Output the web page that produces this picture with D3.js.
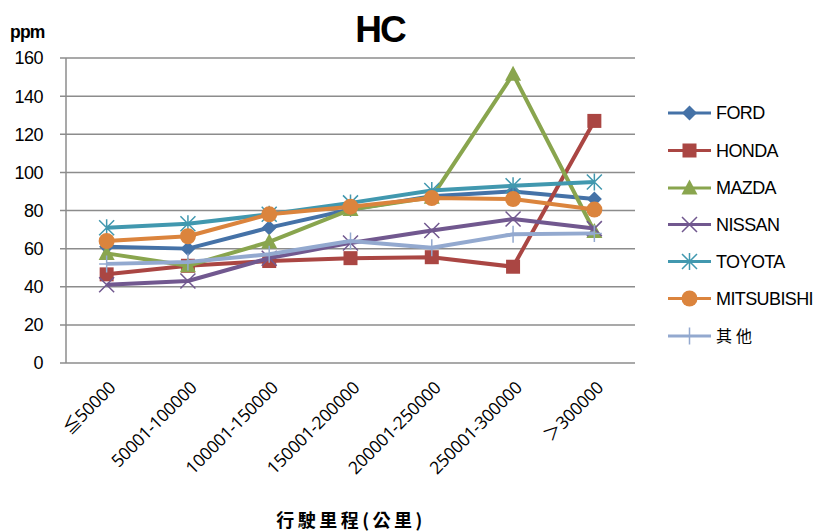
<!DOCTYPE html>
<html>
<head>
<meta charset="utf-8">
<script src="https://cdn.jsdelivr.net/npm/d3@7"></script>
<style>
  html, body { margin: 0; padding: 0; background: #fff; }
  svg { display: block; }
</style>
</head>
<body>
<svg id="chart" width="818" height="531"></svg>
<script>
// Mileage bands (km)
const categories = ["≦50000", "50001-100000", "100001-150000", "150001-200000",
                    "200001-250000", "250001-300000", "＞300000"];

// HC concentration (ppm) per brand
const ford       = [61, 60, 71, 80.5, 87.5, 90, 86];
const honda      = [46.5, 51, 53.5, 55, 55.5, 50.5, 127];
const mazda      = [57.5, 51, 63.5, 80.5, 87, 151.5, 69];
const nissan     = [41, 43, 55, 63, 69.5, 75.5, 70.5];
const toyota     = [71, 73, 78, 84, 90.5, 93, 95];
const mitsubishi = [64, 66.5, 78, 82, 86.5, 86, 80.5];
const others     = [52, 53, 57, 64, 60.5, 67.5, 68];

const yTicks = [0, 20, 40, 60, 80, 100, 120, 140, 160];

const seriesNames  = ["FORD", "HONDA", "MAZDA", "NISSAN", "TOYOTA", "MITSUBISHI", "其他"];
const seriesValues = [ford, honda, mazda, nissan, toyota, mitsubishi, others];
const seriesColors = ["#4572A7", "#AA4643", "#89A54E", "#71588F", "#4198AF", "#DB843D", "#93A9CF"];
const seriesMarker = ["diamond", "square", "triangle", "x", "star", "circle", "plus"];

const svg = d3.select("#chart");
const plot = { left: 66, right: 635, top: 58, bottom: 363 };

const x = d3.scaleBand().domain(categories).range([plot.left, plot.right]);
const y = d3.scaleLinear().domain([0, 160]).range([plot.bottom, plot.top]);
const cx = d => x(d) + x.bandwidth() / 2;

const fontLatin = "'Liberation Sans', Arial, sans-serif";

// Horizontal gridlines
svg.append("g")
  .selectAll("line")
  .data(yTicks)
  .join("line")
  .attr("x1", plot.left - 6)
  .attr("x2", plot.right)
  .attr("y1", d => y(d))
  .attr("y2", d => y(d))
  .attr("stroke", "#8c8c8c")
  .attr("stroke-width", 1.5);

// Y axis line
svg.append("line")
  .attr("x1", plot.left).attr("x2", plot.left)
  .attr("y1", plot.top).attr("y2", plot.bottom)
  .attr("stroke", "#8c8c8c").attr("stroke-width", 1.5);

// Y tick labels
svg.append("g")
  .selectAll("text")
  .data(yTicks)
  .join("text")
  .attr("x", 43)
  .attr("y", d => y(d))
  .attr("dy", "0.36em")
  .attr("text-anchor", "end")
  .attr("font-family", fontLatin)
  .attr("font-size", 18)
  .attr("letter-spacing", -0.5)
  .attr("fill", "#000")
  .text(d => d);

// X tick labels, rotated
svg.append("g")
  .selectAll("text")
  .data(categories)
  .join("text")
  .attr("transform", d => `translate(${cx(d) + 10},${plot.bottom + 26}) rotate(-45)`)
  .attr("text-anchor", "end")
  .attr("font-family", "'Open Sans', 'Noto Sans CJK TC', sans-serif")
  .attr("font-size", 17.5)
  .attr("letter-spacing", -0.3)
  .attr("fill", "#000")
  .text(d => d);

// Marker shapes
function drawMarker(g, type, color) {
  const s = 7.5;
  switch (type) {
    case "diamond":
      g.append("path").attr("d", `M0,${-s}L${s},0L0,${s}L${-s},0Z`).attr("fill", color);
      break;
    case "square":
      g.append("rect").attr("x", -s + 0.5).attr("y", -s + 0.5)
        .attr("width", 2 * s - 1).attr("height", 2 * s - 1).attr("fill", color);
      break;
    case "triangle":
      g.append("path").attr("d", `M0,${-s - 1}L${s + 0.5},${s - 1}L${-s - 0.5},${s - 1}Z`).attr("fill", color);
      break;
    case "circle":
      g.append("circle").attr("r", s + 0.5).attr("fill", color);
      break;
    case "x":
      g.append("path").attr("d", `M${-s},${-s}L${s},${s}M${-s},${s}L${s},${-s}`)
        .attr("stroke", color).attr("stroke-width", 1.5).attr("fill", "none");
      break;
    case "star":
      g.append("path").attr("d", `M${-s},${-s}L${s},${s}M${-s},${s}L${s},${-s}M0,${-s - 1}L0,${s + 1}`)
        .attr("stroke", color).attr("stroke-width", 1.5).attr("fill", "none");
      break;
    case "plus":
      g.append("path").attr("d", `M0,${-s - 1}L0,${s + 1}M${-s},0L${s},0`)
        .attr("stroke", color).attr("stroke-width", 1.5).attr("fill", "none");
      break;
  }
}

// Series lines and markers
const line = d3.line()
  .x((d, i) => cx(categories[i]))
  .y(d => y(d));

seriesValues.forEach((vals, si) => {
  const color = seriesColors[si];
  const g = svg.append("g");
  g.append("path")
    .datum(vals)
    .attr("d", line)
    .attr("fill", "none")
    .attr("stroke", color)
    .attr("stroke-width", 4)
    .attr("stroke-linejoin", "round");
  vals.forEach((v, i) => {
    const m = g.append("g").attr("transform", `translate(${cx(categories[i])},${y(v)})`);
    drawMarker(m, seriesMarker[si], color);
  });
});

// Legend
const legendRows = [113, 150.5, 188, 224.5, 261.5, 298.5, 336];
seriesNames.forEach((name, si) => {
  const color = seriesColors[si];
  const g = svg.append("g").attr("transform", `translate(0,${legendRows[si]})`);
  g.append("line")
    .attr("x1", 668).attr("x2", 711)
    .attr("stroke", color).attr("stroke-width", 3);
  const m = g.append("g").attr("transform", "translate(689.5,0)");
  drawMarker(m, seriesMarker[si], color);
  g.append("text")
    .attr("x", 716)
    .attr("dy", "0.36em")
    .attr("font-family", name === "其他" ? "'Noto Sans CJK TC', serif" : fontLatin)
    .attr("font-size", name === "其他" ? 16 : 18)
    .attr("letter-spacing", name === "其他" ? 4 : -0.6)
    .attr("fill", "#000")
    .text(name);
});

// Title
svg.append("text")
  .attr("x", 380).attr("y", 42)
  .attr("text-anchor", "middle")
  .attr("font-family", fontLatin)
  .attr("font-weight", "bold")
  .attr("font-size", 37)
  .attr("letter-spacing", -2)
  .attr("fill", "#000")
  .text("HC");

// Y unit label
svg.append("text")
  .attr("x", 10).attr("y", 38)
  .attr("font-family", fontLatin)
  .attr("font-weight", "bold")
  .attr("font-size", 17.5)
  .attr("letter-spacing", -0.8)
  .attr("fill", "#000")
  .text("ppm");

// X axis title
svg.append("text")
  .attr("x", 351).attr("y", 527)
  .attr("text-anchor", "middle")
  .attr("font-family", "'Noto Sans CJK TC', sans-serif")
  .attr("font-weight", "bold")
  .attr("font-size", 18)
  .attr("letter-spacing", 3.5)
  .attr("fill", "#000")
  .text("行駛里程(公里)");
</script>
</body>
</html>
